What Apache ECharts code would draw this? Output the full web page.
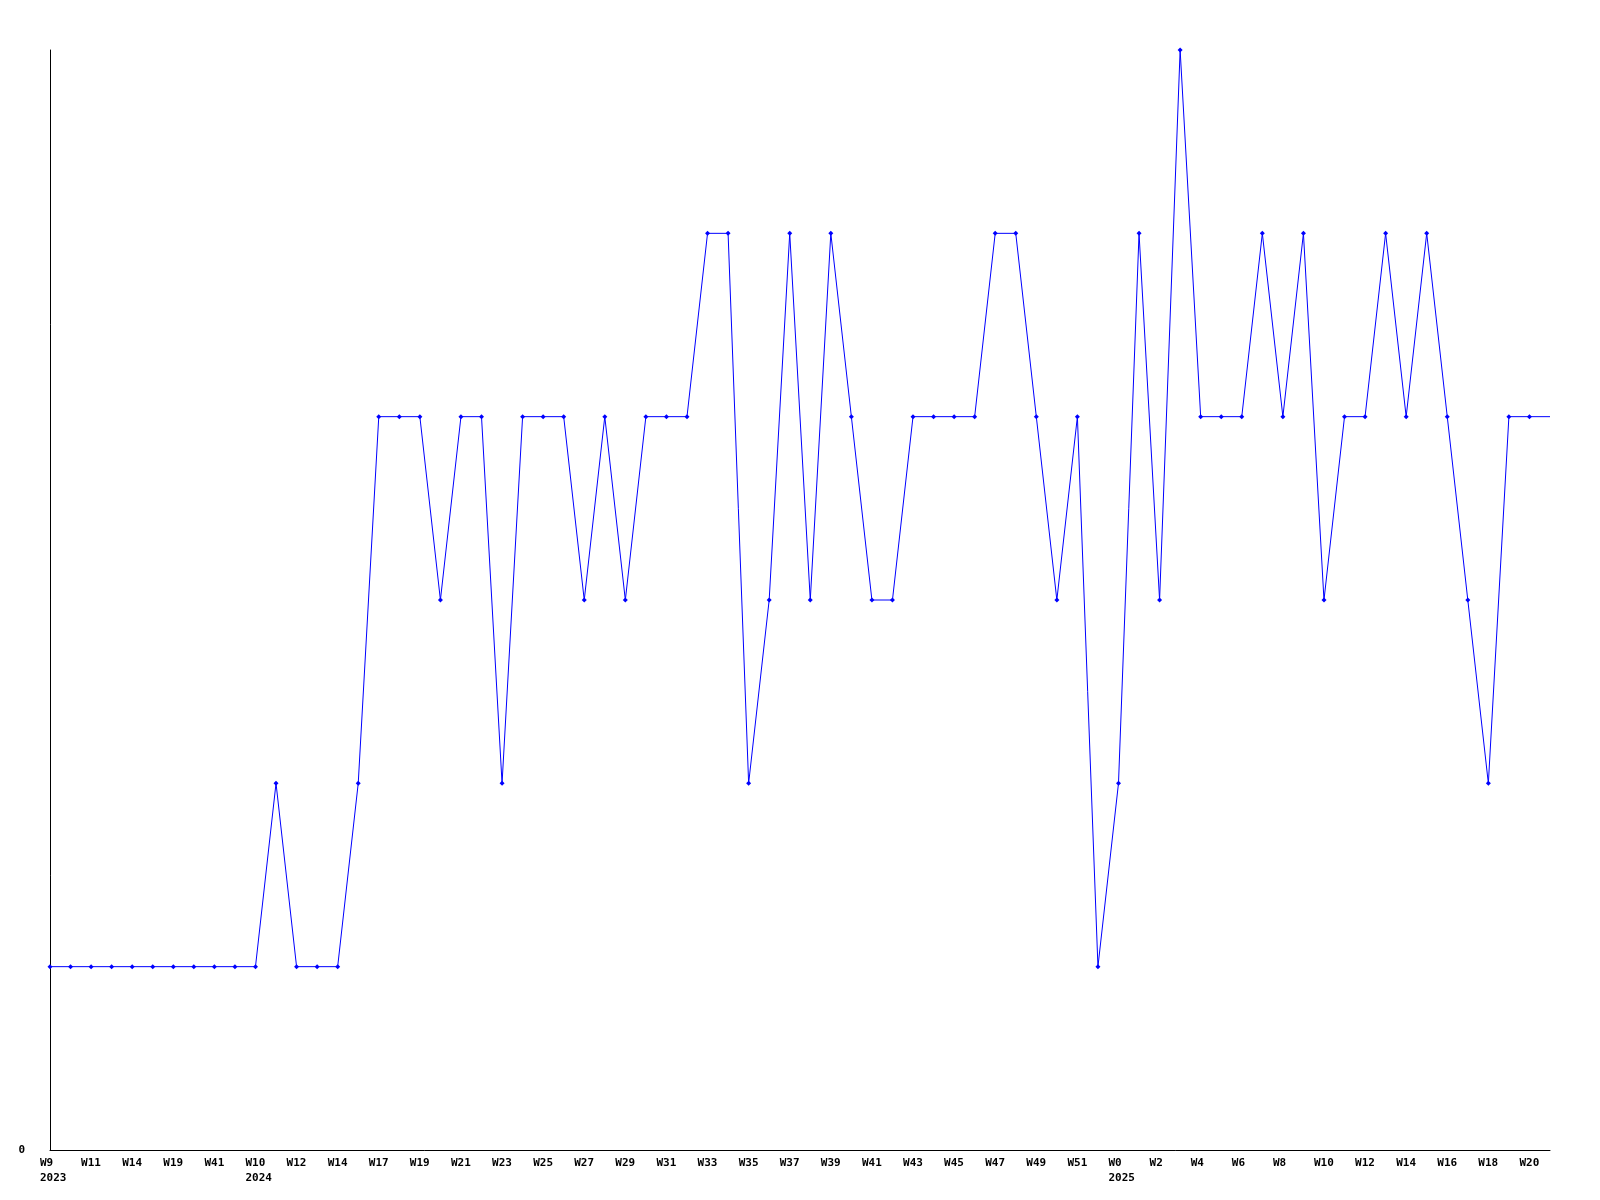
<!DOCTYPE html>
<html>
<head>
<meta charset="utf-8">
<script src="https://cdn.jsdelivr.net/npm/echarts@6/dist/echarts.min.js"></script>
<style>html,body{margin:0;padding:0;background:#fff}#c{width:1600px;height:1200px}</style>
</head>
<body>
<div id="c"></div>
<script>
const weeks2023 = ['W9','W10','W11','W12','W14','W16','W19','W30','W41','W45'];
const weeks2024 = ['W10','W11','W12','W13','W14','W15','W17','W18','W19','W20','W21','W22','W23','W24','W25','W26','W27','W28','W29','W30','W31','W32','W33','W34','W35','W36','W37','W38','W39','W40','W41','W42','W43','W44','W45','W46','W47','W48','W49','W50','W51','W52'];
const weeks2025 = ['W0','W1','W2','W3','W4','W5','W6','W7','W8','W9','W10','W11','W12','W13','W14','W15','W16','W17','W18','W19','W20','W21'];
const values = [
  1,1,1,1,1,1,1,1,1,1,
  1,2,1,1,1,2,4,4,4,3,4,4,2,4,4,4,3,4,3,4,4,4,5,5,2,3,5,3,5,4,3,3,4,4,4,4,5,5,4,3,4,1,
  2,5,3,6,4,4,4,5,4,5,3,4,4,5,4,5,4,3,2,4,4,4
];

const categories = [];
const yearOf = {};
[['2023',weeks2023],['2024',weeks2024],['2025',weeks2025]].forEach(([y,ws])=>{
  ws.forEach((w,i)=>{
    const key = y + ' ' + w;
    categories.push(key);
    if (i === 0) yearOf[key] = y;
  });
});

const seriesData = values.map((v,i)=> i === values.length-1 ? {value:v, symbol:'none'} : v);

const chart = echarts.init(document.getElementById('c'));
chart.setOption({
  animation:false,
  backgroundColor:'#fff',
  grid:{left:50,right:50,top:50,bottom:50,containLabel:false},
  xAxis:{
    type:'category',
    data:categories,
    boundaryGap:false,
    axisLine:{show:true,lineStyle:{color:'#000',width:1}},
    axisTick:{show:false},
    splitLine:{show:false},
    axisLabel:{
      interval:1,
      align:'left',
      padding:[0,0,0,-10],
      margin:6,
      color:'#000',
      fontFamily:'DejaVu Sans Mono',
      fontWeight:'bold',
      fontSize:11,
      lineHeight:15,
      formatter:function(v){
        const w = v.split(' ')[1];
        return yearOf[v] ? w + '\n' + yearOf[v] : w;
      }
    }
  },
  yAxis:{
    type:'value',
    min:0,max:6,interval:6,
    axisLine:{show:true,lineStyle:{color:'#000',width:1}},
    axisTick:{show:false},
    splitLine:{show:false},
    axisLabel:{
      margin:25,
      color:'#000',
      fontFamily:'DejaVu Sans Mono',
      fontWeight:'bold',
      fontSize:11,
      formatter:function(v){return v===0?'0':'';}
    }
  },
  series:[{
    type:'line',
    data:seriesData,
    symbol:'diamond',
    symbolSize:5,
    showAllSymbol:true,
    lineStyle:{color:'#0000ff',width:1},
    itemStyle:{color:'#0000ff'},
    clip:false
  }]
});
</script>
</body>
</html>
